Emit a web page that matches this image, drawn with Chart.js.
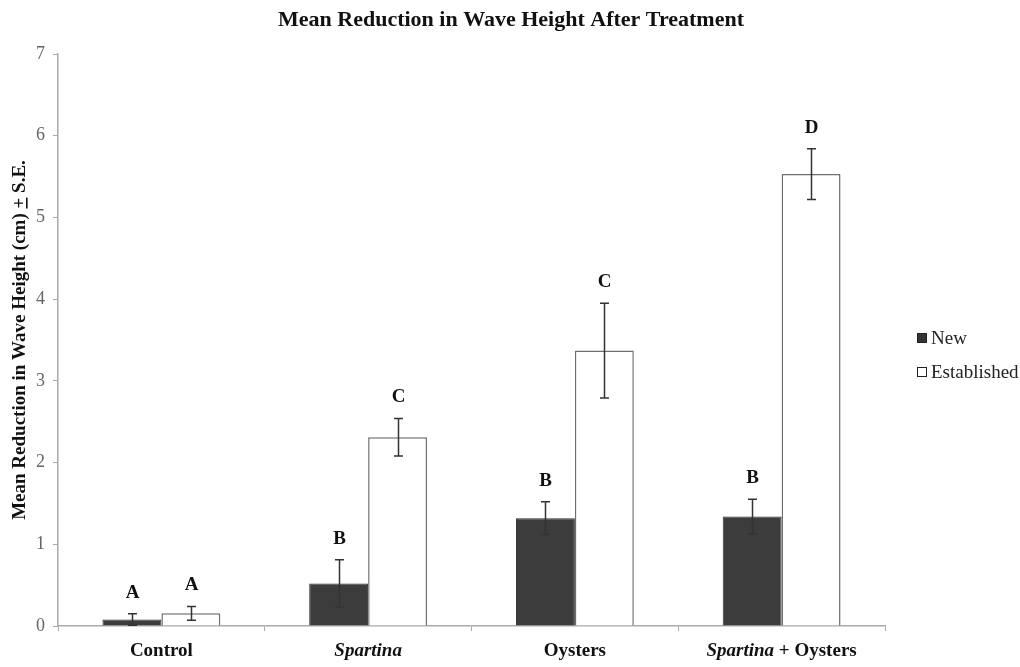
<!DOCTYPE html>
<html>
<head>
<meta charset="utf-8">
<title>Mean Reduction in Wave Height After Treatment</title>
<script src="https://cdn.jsdelivr.net/npm/chart.js@4.4.1/dist/chart.umd.min.js"></script>
<style>
  html, body { margin: 0; padding: 0; background: #fff; }
  #wrap { width: 1020px; height: 667px; position: relative; }
</style>
</head>
<body>
<div id="wrap"><canvas id="chart" width="1020" height="667"></canvas></div>
<script>
// Treatments along the x axis
const categories = ['Control', 'Spartina', 'Oysters', 'Spartina + Oysters'];
// Label pieces per treatment; genus names are set in italics
const categoryLabelParts = [
  [{ text: 'Control', italic: false }],
  [{ text: 'Spartina', italic: true }],
  [{ text: 'Oysters', italic: false }],
  [{ text: 'Spartina', italic: true }, { text: ' + Oysters', italic: false }]
];

// Mean reduction in wave height (cm) and standard errors
const newMeans = [0.08, 0.52, 1.32, 1.34];
const newSE = [0.07, 0.29, 0.20, 0.21];
const establishedMeans = [0.155, 2.31, 3.37, 5.53];
const establishedSE = [0.085, 0.23, 0.58, 0.31];

// Significance groupings
const newLetters = ['A', 'B', 'B', 'B'];
const establishedLetters = ['A', 'C', 'C', 'D'];

// Y axis range and step
const yMin = 0;
const yMax = 7;
const yStep = 1;

const SERIF = '"Liberation Serif", "Times New Roman", serif';
const seriesSE = [newSE, establishedSE];
const seriesLetters = [newLetters, establishedLetters];

// Error bars and letters over each bar
const errorBarPlugin = {
  id: 'errorBars',
  afterDatasetsDraw(chart) {
    const ctx = chart.ctx;
    const yScale = chart.scales.y;
    ctx.save();
    chart.data.datasets.forEach((ds, i) => {
      const meta = chart.getDatasetMeta(i);
      meta.data.forEach((bar, j) => {
        const mean = ds.data[j];
        const se = seriesSE[i][j];
        const yTop = yScale.getPixelForValue(mean + se);
        const yBot = yScale.getPixelForValue(Math.max(0, mean - se));
        const x = Math.round(bar.x) + 0.5;
        ctx.strokeStyle = '#333';
        ctx.lineWidth = 1.5;
        ctx.beginPath();
        ctx.moveTo(x, yTop);
        ctx.lineTo(x, yBot);
        ctx.moveTo(x - 4.5, yTop);
        ctx.lineTo(x + 4.5, yTop);
        ctx.moveTo(x - 4.5, yBot);
        ctx.lineTo(x + 4.5, yBot);
        ctx.stroke();

        ctx.fillStyle = '#111';
        ctx.font = 'bold 19px ' + SERIF;
        ctx.textAlign = 'center';
        ctx.textBaseline = 'middle';
        ctx.fillText(seriesLetters[i][j], x, yTop - 21);
      });
    });
    ctx.restore();
  }
};

// Title, axis title, category labels and legend
const annotationPlugin = {
  id: 'annotations',
  afterDraw(chart) {
    const ctx = chart.ctx;
    const area = chart.chartArea;
    const xScale = chart.scales.x;
    ctx.save();
    ctx.fillStyle = '#111';

    // Chart title
    ctx.font = 'bold 22px ' + SERIF;
    ctx.textAlign = 'center';
    ctx.textBaseline = 'middle';
    ctx.fillText('Mean Reduction in Wave Height After Treatment', 511, 20);

    // Rotated y axis title with an underlined plus sign
    ctx.save();
    ctx.translate(20, 340);
    ctx.rotate(-Math.PI / 2);
    ctx.font = 'bold 19px ' + SERIF;
    ctx.textAlign = 'left';
    ctx.textBaseline = 'middle';
    const partA = 'Mean Reduction in Wave Height (cm) ';
    const partB = '+';
    const partC = ' S.E.';
    const wA = ctx.measureText(partA).width;
    const wB = ctx.measureText(partB).width;
    const wC = ctx.measureText(partC).width;
    let sx = -(wA + wB + wC) / 2;
    ctx.fillText(partA, sx, 0);
    ctx.fillText(partB, sx + wA, 0);
    ctx.fillText(partC, sx + wA + wB, 0);
    ctx.fillRect(sx + wA, 6, wB, 1.6);
    ctx.restore();

    // Category labels with mixed italic styling
    ctx.textAlign = 'left';
    ctx.textBaseline = 'middle';
    categoryLabelParts.forEach((parts, i) => {
      const cx = xScale.getPixelForValue(i);
      const widths = parts.map(p => {
        ctx.font = (p.italic ? 'italic ' : '') + 'bold 19px ' + SERIF;
        return ctx.measureText(p.text).width;
      });
      let px = cx - widths.reduce((a, b) => a + b, 0) / 2;
      parts.forEach((p, k) => {
        ctx.font = (p.italic ? 'italic ' : '') + 'bold 19px ' + SERIF;
        ctx.fillText(p.text, px, area.bottom + 25);
        px += widths[k];
      });
    });

    // Legend
    ctx.font = '19px ' + SERIF;
    ctx.fillStyle = '#222';
    chart.data.datasets.forEach((ds, i) => {
      const by = 333 + i * 34;
      ctx.fillStyle = ds.legendFill;
      ctx.fillRect(917, by, 10, 10);
      ctx.strokeStyle = '#222';
      ctx.lineWidth = 1;
      ctx.strokeRect(917.5, by + 0.5, 9, 9);
      ctx.fillStyle = '#222';
      ctx.fillText(ds.label, 931, by + 6);
    });

    ctx.restore();
  }
};

new Chart(document.getElementById('chart'), {
  type: 'bar',
  data: {
    labels: categories,
    datasets: [
      {
        label: 'New',
        data: newMeans,
        backgroundColor: '#3c3c3c',
        borderColor: '#2e2e2e',
        borderWidth: 1,
        legendFill: '#333',
        categoryPercentage: 0.57,
        barPercentage: 1.0
      },
      {
        label: 'Established',
        data: establishedMeans,
        backgroundColor: '#ffffff',
        borderColor: '#6e6e6e',
        borderWidth: 1.5,
        legendFill: '#ffffff',
        categoryPercentage: 0.57,
        barPercentage: 1.0
      }
    ]
  },
  options: {
    responsive: false,
    animation: false,
    layout: { padding: { top: 54, right: 135, bottom: 0, left: 0 } },
    plugins: {
      legend: { display: false },
      title: { display: false },
      tooltip: { enabled: false }
    },
    scales: {
      x: {
        grid: {
          display: true,
          drawOnChartArea: false,
          drawTicks: true,
          tickLength: 5,
          color: '#aaa',
          offset: true
        },
        border: { color: '#aaa', width: 1.5 },
        ticks: { display: false },
        afterFit(scale) { scale.height = 41; }
      },
      y: {
        min: yMin,
        max: yMax,
        grid: {
          drawOnChartArea: false,
          drawTicks: true,
          tickLength: 5,
          color: '#aaa'
        },
        border: { color: '#aaa', width: 1.5 },
        ticks: {
          stepSize: yStep,
          color: '#666',
          padding: 8,
          font: { family: SERIF, size: 18 }
        },
        afterFit(scale) { scale.width = 58; }
      }
    }
  },
  plugins: [errorBarPlugin, annotationPlugin]
});
</script>
</body>
</html>
